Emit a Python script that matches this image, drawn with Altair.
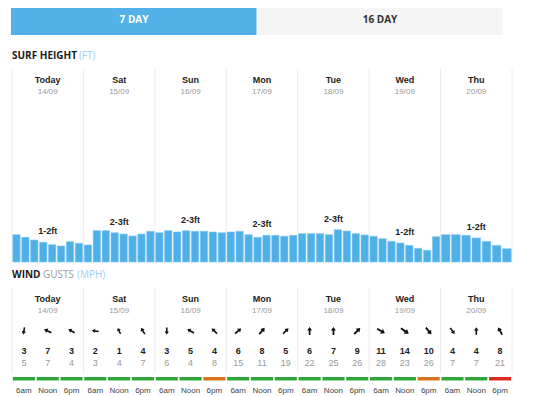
import altair as alt
import pandas as pd

# ---------------- data ----------------
tabs = ["7 DAY", "16 DAY"]
active_tab = "7 DAY"

days = ["Today", "Sat", "Sun", "Mon", "Tue", "Wed", "Thu"]
dates = ["14/09", "15/09", "16/09", "17/09", "18/09", "19/09", "20/09"]

# surf height (ft), 3-hourly
surf_ft = [
    [2.10, 1.90, 1.69, 1.52, 1.33, 1.23, 1.56, 1.44],
    [1.31, 2.41, 2.41, 2.25, 2.15, 2.00, 2.15, 2.36],
    [2.25, 2.41, 2.31, 2.41, 2.36, 2.36, 2.31, 2.25],
    [2.31, 2.36, 2.10, 1.90, 2.05, 2.05, 1.98, 2.05],
    [2.18, 2.18, 2.18, 2.10, 2.48, 2.38, 2.18, 2.08],
    [1.98, 1.79, 1.59, 1.46, 1.28, 1.05, 0.90, 1.95],
    [2.10, 2.10, 2.05, 1.85, 1.59, 1.28, 1.02],
]
surf_range = ["1-2ft", "2-3ft", "2-3ft", "2-3ft", "2-3ft", "1-2ft", "1-2ft"]

wind_times = ["6am", "Noon", "6pm"]
wind_speed = [[3, 7, 3], [2, 1, 4], [3, 5, 4], [6, 8, 5], [6, 7, 9], [11, 14, 10], [4, 4, 8]]
wind_gust = [[5, 7, 4], [3, 4, 7], [6, 4, 8], [15, 11, 19], [22, 25, 26], [28, 23, 26], [7, 7, 21]]
wind_dir = [[190, 295, 300], [280, 335, 330], [180, 300, 315], [50, 40, 45],
            [0, 0, 45], [120, 125, 140], [145, 0, 330]]
wind_rating = [["good", "good", "good"], ["good", "good", "good"], ["good", "good", "fair"],
               ["good", "good", "good"], ["good", "good", "good"], ["good", "good", "fair"],
               ["good", "good", "poor"]]

# ---------------- tables ----------------
tab_df = pd.DataFrame({"tab": tabs, "state": ["on" if t == active_tab else "off" for t in tabs]})
day_df = pd.DataFrame({"i": range(len(days)), "day": days, "date": dates})
day_df["xc"] = day_df["i"] + 0.5
sep_df = pd.DataFrame({"b": list(range(len(days) + 1))})

bar_rows = []
for d, vals in enumerate(surf_ft):
    n = len(vals)
    for s, v in enumerate(vals):
        bar_rows.append({"day": days[d], "x0": d + s / n + 0.011, "x1": d + (s + 1) / n - 0.011, "ft": v})
bar_df = pd.DataFrame(bar_rows)

lab_rows = []
for d, vals in enumerate(surf_ft):
    n = len(vals)
    mid = [v for s, v in enumerate(vals) if abs(s + 0.5 - n / 2) < 1]
    lab_rows.append({"xc": d + 0.5, "top": max(mid), "label": surf_range[d]})
lab_df = pd.DataFrame(lab_rows)

wind_rows = []
for d in range(len(days)):
    for s, t in enumerate(wind_times):
        wind_rows.append({
            "xc": d + (s + 0.5) / 3, "x0": d + s / 3 + 0.012, "x1": d + (s + 1) / 3 - 0.012,
            "time": t, "speed": wind_speed[d][s], "gust": wind_gust[d][s],
            "dir": wind_dir[d][s], "rating": wind_rating[d][s],
        })
wind_df = pd.DataFrame(wind_rows)

# ---------------- styling ----------------
BLUE = "#52b1e8"
XS = alt.Scale(domain=[0, 7], range=[4, 504])
YS = alt.Scale(domain=[0, 3], range=[256, 217])
FONT = "Liberation Sans"
TFONT = "Open Sans"
ARROW = "M0,-1L0.62,-0.12L0.22,-0.12L0.22,1L-0.22,1L-0.22,-0.12L-0.62,-0.12Z"


def xq(f):
    return alt.X(f"{f}:Q", scale=XS, axis=None)


tab_x = alt.X("tab:N", scale=alt.Scale(domain=tabs, range=[3, 495], paddingInner=0.004, paddingOuter=0), axis=None)

tab_rect = alt.Chart(tab_df).mark_rect().encode(
    x=tab_x, y=alt.value(0), y2=alt.value(29),
    color=alt.Color("state:N", scale=alt.Scale(domain=["on", "off"], range=[BLUE, "#f5f5f5"]), legend=None),
)
tab_text = alt.Chart(tab_df).mark_text(font=TFONT, fontSize=10, fontWeight="bold", baseline="middle").encode(
    x=tab_x, y=alt.value(14), text="tab:N",
    color=alt.Color("state:N", scale=alt.Scale(domain=["on", "off"], range=["#ffffff", "#333333"]), legend=None),
)


def title_part(txt, x, y, color, weight):
    return alt.Chart(pd.DataFrame({"t": [txt]})).mark_text(
        font=TFONT, fontSize=10, fontWeight=weight, align="left", baseline="middle", color=color
    ).encode(x=alt.value(x), y=alt.value(y), text="t:N")


titles = [
    title_part("SURF HEIGHT", 4, 50, "#1a1a1a", "bold"),
    title_part("(FT)", 71, 50, "#9fd2f2", "normal"),
    title_part("WIND", 4, 269, "#1a1a1a", "bold"),
    title_part("GUSTS", 35, 269, "#9a9a9a", "normal"),
    title_part("(MPH)", 69, 269, "#9fd2f2", "normal"),
]

seps = [
    alt.Chart(sep_df).mark_rule(color="#ececec", strokeWidth=1).encode(x=xq("b"), y=alt.value(y0), y2=alt.value(y1))
    for (y0, y1) in [(63, 256), (282, 367)]
]

day_text = []
for (yd, ydt) in [(74, 86), (293, 305)]:
    day_text.append(alt.Chart(day_df).mark_text(font=FONT, fontSize=9, fontWeight="bold", color="#222222",
                                                 baseline="middle").encode(x=xq("xc"), y=alt.value(yd), text="day:N"))
    day_text.append(alt.Chart(day_df).mark_text(font=FONT, fontSize=8, color="#9a9a9a",
                                                 baseline="middle").encode(x=xq("xc"), y=alt.value(ydt), text="date:N"))

bars = alt.Chart(bar_df).mark_rect(color="#4fafe7", stroke="#7fc6f0", strokeWidth=0.6).encode(
    x=xq("x0"), x2="x1", y=alt.Y("ft:Q", scale=YS, axis=None), y2=alt.datum(0),
)
bar_labels = alt.Chart(lab_df).mark_text(font=FONT, fontSize=9, fontWeight="bold", color="#222222",
                                         baseline="middle", dy=-11).encode(
    x=xq("xc"), y=alt.Y("top:Q", scale=YS, axis=None), text="label:N",
)

arrows = alt.Chart(wind_df).mark_point(shape=ARROW, filled=True, color="#111111", strokeWidth=0, opacity=1).encode(
    x=xq("xc"), y=alt.value(325),
    angle=alt.Angle("dir:Q", scale=None),
    size=alt.Size("speed:Q", scale=alt.Scale(domain=[0, 15], range=[40, 95]), legend=None),
)
speed_text = alt.Chart(wind_df).mark_text(font=FONT, fontSize=9, fontWeight="bold", color="#222222",
                                          baseline="middle").encode(x=xq("xc"), y=alt.value(345), text="speed:Q")
gust_text = alt.Chart(wind_df).mark_text(font=FONT, fontSize=9, color="#999999",
                                         baseline="middle").encode(x=xq("xc"), y=alt.value(357), text="gust:Q")
rating_bar = alt.Chart(wind_df).mark_rect().encode(
    x=xq("x0"), x2="x1", y=alt.value(371), y2=alt.value(374.5),
    color=alt.Color("rating:N", scale=alt.Scale(domain=["good", "fair", "poor"],
                                                range=["#2ea63a", "#d8731c", "#dc2b20"]), legend=None),
)
time_text = alt.Chart(wind_df).mark_text(font=FONT, fontSize=8, color="#444444",
                                         baseline="middle").encode(x=xq("xc"), y=alt.value(385), text="time:N")

chart = alt.layer(
    tab_rect, tab_text, *titles, *seps, *day_text, bars, bar_labels,
    arrows, speed_text, gust_text, rating_bar, time_text,
).resolve_scale(
    x="independent", y="independent", color="independent", size="independent"
).properties(
    width=517, height=390, autosize="none",
    padding={"left": 0, "top": -2, "right": 0, "bottom": 0},
).configure_view(stroke=None)

chart.save("out.html", embed_options={"renderer": "svg", "actions": False})
